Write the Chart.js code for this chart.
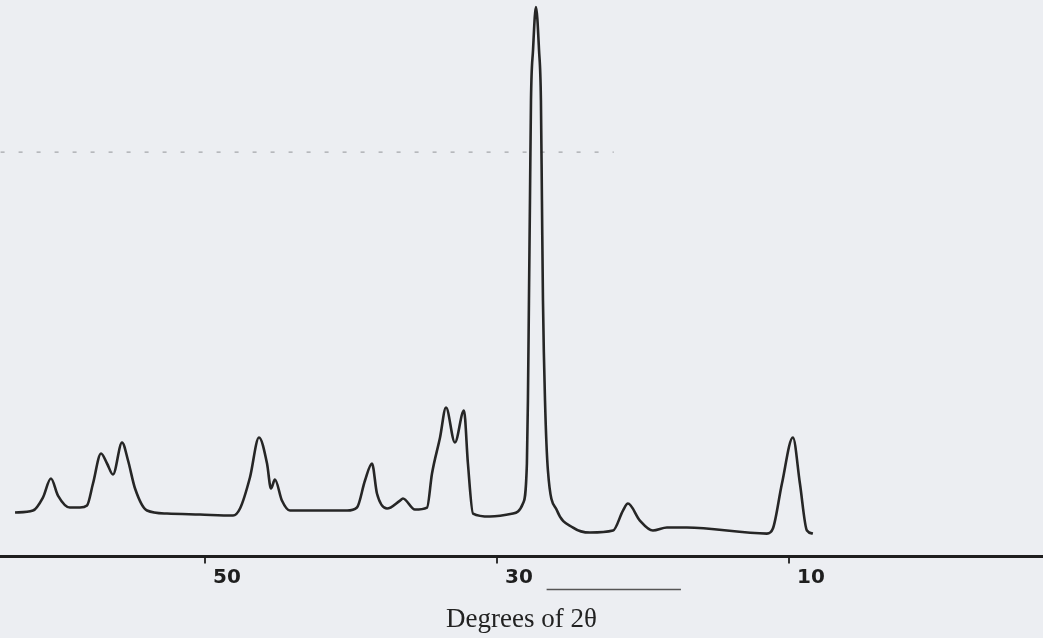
<!DOCTYPE html>
<html>
<head>
<meta charset="utf-8">
<script src="https://cdn.jsdelivr.net/npm/chart.js@4.4.0/dist/chart.umd.min.js"></script>
<style>
  html, body { margin: 0; padding: 0; background: #eceef2; }
  #wrap { width: 1043px; height: 638px; }
</style>
</head>
<body>
<div id="wrap"><canvas id="xrd" width="1043" height="638"></canvas></div>
<script>
// diffractogram (2θ in degrees, intensity in arbitrary units)
const twoTheta = [
  63.01, 61.78, 61.10, 60.55, 60.07, 59.25, 58.56, 58.08, 57.67, 57.12, 56.71, 56.30, 55.68, 55.27, 54.79,
  53.97, 52.60, 50.34, 48.08, 47.60, 46.92, 46.30, 45.75, 45.48, 45.21, 44.73, 44.18, 40.27, 39.59, 39.04,
  38.56, 38.22, 37.53, 36.64, 36.44, 35.62, 34.79, 34.45, 33.90, 33.49, 32.88, 32.26, 31.99, 31.64, 30.48,
  28.90, 28.22, 27.95, 27.88, 27.81, 27.74, 27.67, 27.53, 27.33, 27.12, 26.99, 26.92, 26.85, 26.71, 26.51,
  25.89, 24.79, 23.63, 22.05, 21.37, 21.03, 20.21, 19.32, 18.36, 16.99, 11.51, 11.10, 10.48, 9.73, 9.25,
  8.77, 8.36
];
const intensity = [
  44, 46, 59, 78, 61, 49, 49, 51, 73, 103, 93, 82, 114, 96, 68,
  46, 43, 42, 41, 48, 79, 119, 93, 68, 77, 56, 46, 46, 49, 76,
  93, 63, 48, 56, 58, 47, 49, 83, 119, 149, 114, 146, 93, 43, 40,
  43, 53, 93, 156, 256, 356, 456, 506, 549, 506, 456, 356, 256, 156, 86,
  46, 29, 24, 26, 46, 53, 36, 26, 29, 29, 23, 28, 73, 119, 73,
  26, 23
];
const tickValues = [50, 30, 10];
const guideTheta = [64.0, 22.0];
const guideLevel = [404, 404];

const pattern = twoTheta.map((t, i) => ({ x: t, y: intensity[i] }));
const guide = guideTheta.map((t, i) => ({ x: t, y: guideLevel[i] }));

// hand ruled line under the "30" label
const underline = {
  id: 'underline',
  afterDraw(chart) {
    const ctx = chart.ctx, xs = chart.scales.x;
    const y = chart.chartArea.bottom + 33;
    ctx.save();
    ctx.strokeStyle = '#555';
    ctx.lineWidth = 1.5;
    ctx.beginPath();
    ctx.moveTo(xs.getPixelForValue(26.6), y);
    ctx.lineTo(xs.getPixelForValue(17.4), y);
    ctx.stroke();
    ctx.restore();
  }
};

new Chart(document.getElementById('xrd'), {
  type: 'line',
  data: {
    datasets: [
      {
        data: pattern,
        borderColor: '#262626',
        borderWidth: 2.6,
        pointRadius: 0,
        tension: 0.35,
        cubicInterpolationMode: 'monotone',
        fill: false,
        clip: false
      },
      {
        data: guide,
        borderColor: '#a4a6aa',
        borderWidth: 1.2,
        borderDash: [4, 14],
        pointRadius: 0,
        fill: false
      }
    ]
  },
  options: {
    responsive: false,
    animation: false,
    layout: { padding: { top: 0, left: 0, right: 0, bottom: 2 } },
    plugins: { legend: { display: false }, tooltip: { enabled: false } },
    scales: {
      x: {
        type: 'linear',
        reverse: true,
        min: -7.4,
        max: 64.04,
        afterBuildTicks: (scale) => { scale.ticks = tickValues.map(v => ({ value: v })); },
        border: { display: true, color: '#1e1e1e', width: 3 },
        grid: { display: true, drawOnChartArea: false, drawTicks: true, tickLength: 7, color: '#333', lineWidth: 2 },
        ticks: {
          labelOffset: 22,
          padding: 2,
          color: '#1e1e1e',
          font: { family: 'DejaVu Sans', size: 20, weight: 'bold' }
        },
        title: {
          display: true,
          text: 'Degrees of 2θ',
          color: '#222',
          padding: { top: 12, bottom: 0 },
          font: { family: 'Liberation Serif', size: 27 }
        }
      },
      y: {
        display: false,
        min: 0,
        max: 556
      }
    }
  },
  plugins: [underline]
});
</script>
</body>
</html>
